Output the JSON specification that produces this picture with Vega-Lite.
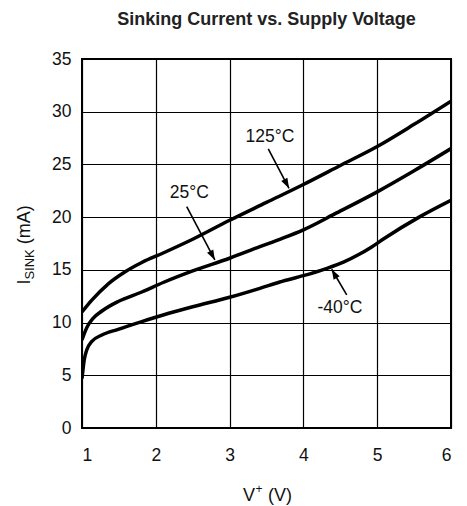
{
  "$schema": "https://vega.github.io/schema/vega-lite/v6.json",
  "width": 369,
  "height": 369,
  "autosize": {"type": "none"},
  "padding": {"left": 82, "top": 59, "right": 16, "bottom": 78},
  "background": "white",
  "title": {"text": "Sinking Current vs. Supply Voltage", "font": "Liberation Sans", "fontSize": 18, "fontWeight": "bold", "color": "#222", "anchor": "middle", "offset": 21},
  "config": {
    "view": {"stroke": "#000", "strokeWidth": 2},
    "axis": {"grid": true, "gridColor": "#000", "gridOpacity": 1, "gridWidth": 1.2, "domain": false, "ticks": false, "labelFont": "Liberation Sans", "labelFontSize": 17.5, "labelColor": "#111", "title": null}
  },
  "datasets": {
    "curves": [
      {"T": "125°C", "V": 1.0, "I": 11.0}, {"T": "125°C", "V": 1.13, "I": 12.1}, {"T": "125°C", "V": 1.36, "I": 13.7}, {"T": "125°C", "V": 1.58, "I": 14.8}, {"T": "125°C", "V": 1.81, "I": 15.7}, {"T": "125°C", "V": 2.1, "I": 16.6}, {"T": "125°C", "V": 2.5, "I": 17.9}, {"T": "125°C", "V": 3.0, "I": 19.7}, {"T": "125°C", "V": 3.5, "I": 21.4}, {"T": "125°C", "V": 4.0, "I": 23.1}, {"T": "125°C", "V": 4.5, "I": 24.9}, {"T": "125°C", "V": 5.0, "I": 26.7}, {"T": "125°C", "V": 5.5, "I": 28.8}, {"T": "125°C", "V": 6.0, "I": 31.0},
      {"T": "25°C", "V": 1.0, "I": 8.35}, {"T": "25°C", "V": 1.06, "I": 9.45}, {"T": "25°C", "V": 1.15, "I": 10.4}, {"T": "25°C", "V": 1.27, "I": 11.1}, {"T": "25°C", "V": 1.49, "I": 12.0}, {"T": "25°C", "V": 1.81, "I": 12.9}, {"T": "25°C", "V": 2.1, "I": 13.8}, {"T": "25°C", "V": 2.5, "I": 14.9}, {"T": "25°C", "V": 3.0, "I": 16.1}, {"T": "25°C", "V": 3.41, "I": 17.2}, {"T": "25°C", "V": 3.68, "I": 17.9}, {"T": "25°C", "V": 4.0, "I": 18.8}, {"T": "25°C", "V": 4.45, "I": 20.4}, {"T": "25°C", "V": 5.0, "I": 22.4}, {"T": "25°C", "V": 5.5, "I": 24.4}, {"T": "25°C", "V": 6.0, "I": 26.5},
      {"T": "-40°C", "V": 1.0, "I": 4.7}, {"T": "-40°C", "V": 1.03, "I": 6.45}, {"T": "-40°C", "V": 1.064, "I": 7.4}, {"T": "-40°C", "V": 1.13, "I": 8.19}, {"T": "-40°C", "V": 1.27, "I": 8.82}, {"T": "-40°C", "V": 1.49, "I": 9.36}, {"T": "-40°C", "V": 1.81, "I": 10.09}, {"T": "-40°C", "V": 2.1, "I": 10.72}, {"T": "-40°C", "V": 2.5, "I": 11.5}, {"T": "-40°C", "V": 3.0, "I": 12.4}, {"T": "-40°C", "V": 3.41, "I": 13.25}, {"T": "-40°C", "V": 3.68, "I": 13.85}, {"T": "-40°C", "V": 4.0, "I": 14.45}, {"T": "-40°C", "V": 4.3, "I": 15.1}, {"T": "-40°C", "V": 4.55, "I": 15.75}, {"T": "-40°C", "V": 4.75, "I": 16.45}, {"T": "-40°C", "V": 4.92, "I": 17.15}, {"T": "-40°C", "V": 5.1, "I": 18.0}, {"T": "-40°C", "V": 5.58, "I": 20.05}, {"T": "-40°C", "V": 6.0, "I": 21.6}
    ],
    "notes": [
      {"T": "125°C", "lx": 3.547, "ly": 27.58, "ax": 3.524, "ay": 26.47, "tx": 3.805, "ty": 22.74},
      {"T": "25°C", "lx": 2.454, "ly": 22.32, "ax": 2.419, "ay": 21.0, "tx": 2.8, "ty": 15.94},
      {"T": "-40°C", "lx": 4.496, "ly": 11.36, "ax": 4.587, "ay": 12.62, "tx": 4.383, "ty": 15.06}
    ]
  },
  "layer": [
    {
      "data": {"name": "curves"},
      "mark": {"type": "line", "color": "#000", "strokeWidth": 3.5, "interpolate": "monotone", "clip": true},
      "encoding": {
        "x": {"field": "V", "type": "quantitative", "scale": {"domain": [1, 6], "nice": false, "zero": false}, "axis": {"values": [1, 2, 3, 4, 5, 6], "format": "d", "labelPadding": 18}},
        "y": {"field": "I", "type": "quantitative", "scale": {"domain": [0, 35], "nice": false}, "axis": {"values": [0, 5, 10, 15, 20, 25, 30, 35], "format": "d", "labelPadding": 11}},
        "detail": {"field": "T"}
      }
    },
    {
      "data": {"name": "notes"},
      "mark": {"type": "rule", "color": "#000", "strokeWidth": 1.6},
      "encoding": {
        "x": {"field": "ax", "type": "quantitative", "title": null},
        "y": {"field": "ay", "type": "quantitative", "title": null},
        "x2": {"field": "tx"},
        "y2": {"field": "ty"}
      }
    },
    {
      "data": {"name": "notes"},
      "transform": [{"filter": "datum.T !== '-40°C'"}],
      "mark": {"type": "point", "shape": "M0,0L-0.7,2L0.7,2Z", "size": 100, "filled": true, "opacity": 1, "color": "#000", "strokeWidth": 0, "angle": 152},
      "encoding": {
        "x": {"field": "tx", "type": "quantitative", "title": null},
        "y": {"field": "ty", "type": "quantitative", "title": null}
      }
    },
    {
      "data": {"name": "notes"},
      "transform": [{"filter": "datum.T === '-40°C'"}],
      "mark": {"type": "point", "shape": "M0,0L-0.7,2L0.7,2Z", "size": 100, "filled": true, "opacity": 1, "color": "#000", "strokeWidth": 0, "angle": 330},
      "encoding": {
        "x": {"field": "tx", "type": "quantitative", "title": null},
        "y": {"field": "ty", "type": "quantitative", "title": null}
      }
    },
    {
      "data": {"name": "notes"},
      "mark": {"type": "text", "font": "Liberation Sans", "fontSize": 17.5, "color": "#111", "align": "center", "baseline": "middle"},
      "encoding": {
        "x": {"field": "lx", "type": "quantitative", "title": null},
        "y": {"field": "ly", "type": "quantitative", "title": null},
        "text": {"field": "T"}
      }
    },
    {
      "data": {"values": [{"part": "I"}]},
      "mark": {"type": "text", "font": "Liberation Sans", "fontSize": 18, "color": "#111", "align": "left", "baseline": "alphabetic", "angle": 270, "dx": 0},
      "encoding": {"x": {"datum": 0.2954, "type": "quantitative"}, "y": {"datum": 13.6, "type": "quantitative"}, "text": {"field": "part"}}
    },
    {
      "data": {"values": [{"part": "SINK"}]},
      "mark": {"type": "text", "font": "Liberation Sans", "fontSize": 13, "color": "#111", "align": "left", "baseline": "alphabetic", "angle": 270, "dx": 5, "dy": 4},
      "encoding": {"x": {"datum": 0.2954, "type": "quantitative"}, "y": {"datum": 13.6, "type": "quantitative"}, "text": {"field": "part"}}
    },
    {
      "data": {"values": [{"part": "(mA)"}]},
      "mark": {"type": "text", "font": "Liberation Sans", "fontSize": 18, "color": "#111", "align": "left", "baseline": "alphabetic", "angle": 270, "dx": 40.3},
      "encoding": {"x": {"datum": 0.2954, "type": "quantitative"}, "y": {"datum": 13.6, "type": "quantitative"}, "text": {"field": "part"}}
    },
    {
      "data": {"values": [{"part": "V"}]},
      "mark": {"type": "text", "font": "Liberation Sans", "fontSize": 18, "color": "#111", "align": "left", "baseline": "alphabetic"},
      "encoding": {"x": {"datum": 3.1816, "type": "quantitative"}, "y": {"datum": -6.93, "type": "quantitative"}, "text": {"field": "part"}}
    },
    {
      "data": {"values": [{"part": "+"}]},
      "mark": {"type": "text", "font": "Liberation Sans", "fontSize": 12, "color": "#111", "align": "left", "baseline": "alphabetic", "dx": 12.5, "dy": -8},
      "encoding": {"x": {"datum": 3.1816, "type": "quantitative"}, "y": {"datum": -6.93, "type": "quantitative"}, "text": {"field": "part"}}
    },
    {
      "data": {"values": [{"part": "(V)"}]},
      "mark": {"type": "text", "font": "Liberation Sans", "fontSize": 18, "color": "#111", "align": "left", "baseline": "alphabetic", "dx": 25},
      "encoding": {"x": {"datum": 3.1816, "type": "quantitative"}, "y": {"datum": -6.93, "type": "quantitative"}, "text": {"field": "part"}}
    }
  ]
}
